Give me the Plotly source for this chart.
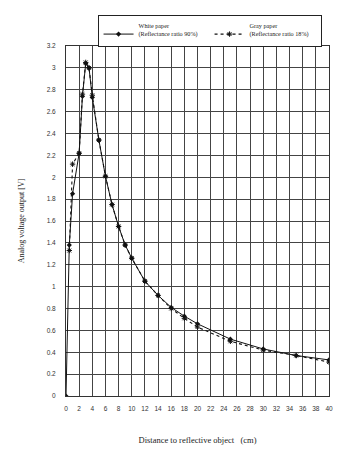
import plotly.graph_objects as go

# Data
white_x = [0, 0.5, 1, 2, 2.5, 3, 3.5, 4, 5, 6, 7, 8, 9, 10, 12, 14, 16, 18, 20, 25, 30, 35, 40]
white_y = [0, 1.38, 1.85, 2.22, 2.74, 3.04, 3.0, 2.73, 2.34, 2.01, 1.75, 1.55, 1.38, 1.26, 1.05,
           0.92, 0.81, 0.73, 0.66, 0.52, 0.43, 0.37, 0.33]
gray_x = [0.5, 1, 2, 2.5, 3, 3.5, 4, 5, 6, 7, 8, 9, 10, 12, 14, 16, 18, 20, 25, 30, 35, 40]
gray_y = [1.33, 2.12, 2.22, 2.76, 3.05, 3.0, 2.75, 2.34, 2.01, 1.75, 1.55, 1.38, 1.26, 1.05,
          0.92, 0.80, 0.71, 0.63, 0.50, 0.42, 0.37, 0.31]

white_name = "White paper<br>(Reflectance ratio 90%)"
gray_name = "Gray paper<br>(Reflectance ratio 18%)"
x_title = "Distance to reflective object   (cm)"
y_title = "Analog voltage output [V]"

serif = "Liberation Serif"
sans = "Liberation Sans"

fig = go.Figure()
fig.add_trace(go.Scatter(
    x=white_x, y=white_y, name=white_name, mode="lines+markers",
    line=dict(color="#111111", width=1),
    marker=dict(symbol="diamond", size=4, color="#111111"),
))
fig.add_trace(go.Scatter(
    x=gray_x, y=gray_y, name=gray_name, mode="lines+markers",
    line=dict(color="#111111", width=1.1, dash="dot"),
    marker=dict(symbol="asterisk-open", size=4.5, color="#111111", line=dict(width=1, color="#111111")),
))

fig.update_layout(
    width=360, height=456,
    margin=dict(l=66, r=31, t=46, b=58),
    paper_bgcolor="white", plot_bgcolor="white",
    font=dict(family=serif, color="#222222"),
    showlegend=True,
    legend=dict(
        orientation="h", x=0.12, y=1.09, xanchor="left", yanchor="top",
        bordercolor="#222222", borderwidth=1, bgcolor="white",
        font=dict(family=serif, size=6.2, color="#222222"),
        valign="bottom", itemwidth=30, entrywidth=66, entrywidthmode="pixels",
    ),
    xaxis=dict(
        range=[0, 40], dtick=2, tick0=0,
        showgrid=True, gridcolor="#444444", gridwidth=1,
        showline=True, linecolor="#333333", linewidth=1, mirror=True,
        zeroline=False, ticks="", ticklabelstandoff=6,
        tickfont=dict(family=sans, size=6.5, color="#333333"),
        title=dict(text=x_title, font=dict(family=serif, size=8.5, color="#222222"), standoff=26),
    ),
    yaxis=dict(
        range=[0, 3.2], dtick=0.2, tick0=0,
        showgrid=True, gridcolor="#444444", gridwidth=1,
        showline=True, linecolor="#333333", linewidth=1, mirror=True,
        zeroline=False, ticks="", ticklabelstandoff=8,
        tickfont=dict(family=sans, size=6.5, color="#333333"),
        title=dict(text=y_title, font=dict(family=serif, size=8, color="#222222"), standoff=20),
    ),
)

fig.write_html("out.html")
